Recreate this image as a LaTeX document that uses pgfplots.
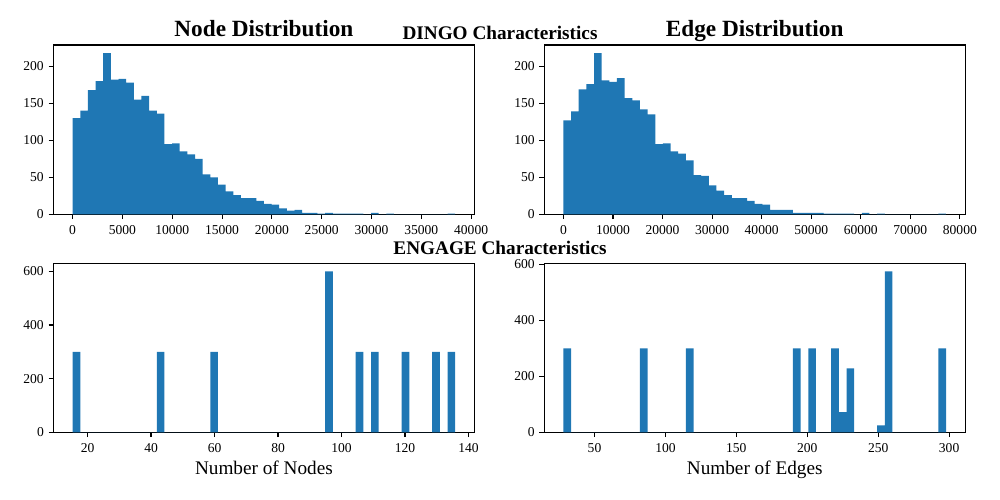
\documentclass[border=0pt]{standalone}
\usepackage{pgfplots}
\pgfplotsset{compat=1.18}
\usepackage{fontspec}
\setmainfont{Liberation Serif}
\definecolor{tabblue}{HTML}{1F77B4}
\pgfplotsset{
  hist/.style={
    scale only axis, width=302.98bp, anchor=south west,
    axis line style={line width=0.8bp},
    tick align=outside, xtick pos=left, ytick pos=left,
    major tick length=3.5bp,
    every tick/.style={black, line width=0.8bp},
    tick label style={font=\fontsize{9.8}{11}\selectfont, inner sep=0pt},
    xticklabel shift=4.2bp, yticklabel shift=3.3bp,
    /pgf/number format/assume math mode=true,
    /pgf/number format/1000 sep={},
    scaled x ticks=false, scaled y ticks=false,
    ymin=0,
    title style={at={(0.5,1)}, anchor=base, font=\fontsize{16.8}{20}\selectfont\bfseries},
    xlabel style={at={(0.5,0)}, anchor=base, yshift=-30.7bp, font=\fontsize{13.9}{16}\selectfont},
  },
  histbar/.style={ybar interval, fill=tabblue, draw=none},
}
\begin{document}
\begin{tikzpicture}
\path[use as bounding box] (0,0) rectangle (720bp,360bp);

\begin{axis}[hist, at={(38.52bp,205.7bp)}, height=121.9bp,
  xmin=-1920, xmax=40320, ymax=228.9,
  xtick={0,5000,...,40000}, ytick={0,50,100,150,200},
  title={Node Distribution}]
\addplot[histbar] coordinates {
(0,130) (768,140) (1536,168) (2304,180) (3072,218) (3840,182) (4608,183) (5376,178) (6144,155) (6912,160)
(7680,140) (8448,136) (9216,95) (9984,96) (10752,85) (11520,81) (12288,75) (13056,54) (13824,50) (14592,40)
(15360,31) (16128,26) (16896,22) (17664,22) (18432,18) (19200,14) (19968,13) (20736,8) (21504,5) (22272,6)
(23040,2) (23808,2) (24576,1) (25344,2) (26112,1) (26880,1) (27648,1) (28416,1) (29184,0) (29952,2)
(30720,0) (31488,1) (32256,0) (33024,0) (33792,0) (34560,0) (35328,0) (36096,0) (36864,0) (37632,1)
(38400,1)};
\end{axis}

\begin{axis}[hist, at={(391.9bp,205.7bp)}, height=121.9bp,
  xmin=-3860, xmax=81060, ymax=228.9,
  xtick={0,10000,...,80000}, ytick={0,50,100,150,200},
  title={Edge Distribution}]
\addplot[histbar] coordinates {
(0,127) (1544,139) (3088,169) (4632,176) (6176,218) (7720,181) (9264,179) (10808,184) (12352,157) (13896,154)
(15440,142) (16984,135) (18528,95) (20072,96) (21616,85) (23160,82) (24704,73) (26248,53) (27792,52) (29336,39)
(30880,32) (32424,26) (33968,22) (35512,22) (37056,18) (38600,14) (40144,13) (41688,6) (43232,6) (44776,6)
(46320,2) (47864,2) (49408,2) (50952,2) (52496,1) (54040,1) (55584,1) (57128,1) (58672,0) (60216,2)
(61760,0) (63304,1) (64848,0) (66392,0) (67936,0) (69480,0) (71024,0) (72568,0) (74112,0) (75656,1)
(77200,1)};
\end{axis}

\begin{axis}[hist, at={(38.52bp,48.74bp)}, height=121.7bp,
  xmin=9.275, xmax=141.825, ymax=630,
  xtick={20,40,...,140}, ytick={0,200,400,600},
  xlabel={Number of Nodes}]
\addplot[histbar] coordinates {
(15.30,300) (17.71,0) (41.81,300) (44.22,0) (58.68,300) (61.09,0) (94.83,600) (97.24,0)
(104.47,300) (106.88,0) (109.29,300) (111.70,0) (118.93,300) (121.34,0) (128.57,300) (130.98,0)
(133.39,300) (135.80,0)};
\end{axis}

\begin{axis}[hist, at={(391.9bp,48.74bp)}, height=121.7bp,
  xmin=14.615, xmax=311.285, ymax=603.75,
  xtick={50,100,...,300}, ytick={0,200,400,600},
  xlabel={Number of Edges}]
\addplot[histbar] coordinates {
(28.100,300) (33.494,0) (82.040,300) (87.434,0) (114.404,300) (119.798,0) (189.920,300) (195.314,0)
(200.708,300) (206.102,0) (216.890,300) (222.284,72) (227.678,228) (233.072,0) (249.254,25) (254.648,575)
(260.042,0) (292.406,300) (297.800,0)};
\end{axis}

\node[anchor=base, font=\fontsize{13.9}{16}\selectfont\bfseries] at (360bp,331.2bp) {DINGO Characteristics};
\node[anchor=base, font=\fontsize{13.9}{16}\selectfont\bfseries] at (360bp,176.8bp) {ENGAGE Characteristics};
\end{tikzpicture}
\end{document}
